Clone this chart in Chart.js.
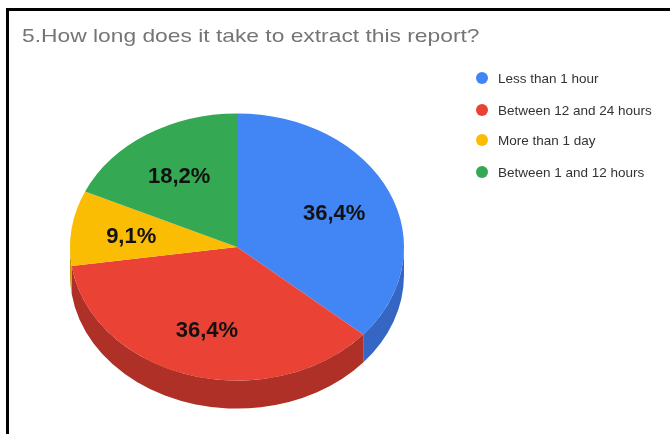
<!DOCTYPE html>
<html>
<head>
<meta charset="utf-8">
<script src="https://cdn.jsdelivr.net/npm/chart.js@4/dist/chart.umd.min.js"></script>
<style>
  html, body { margin: 0; padding: 0; background: #fff; overflow: hidden; }
  #wrap { position: relative; width: 670px; height: 434px; }
  #frame { position: absolute; left: 6px; top: 8px; right: 0; bottom: 0;
           border-top: 3px solid #000; border-left: 3px solid #000; }
  canvas { position: absolute; left: 0; top: 0; }
</style>
</head>
<body>
<div id="wrap">
  <div id="frame"></div>
  <canvas id="c" width="670" height="434"></canvas>
</div>
<script>
const chartTitle = '5.How long does it take to extract this report?';
const categories = ['Less than 1 hour', 'Between 12 and 24 hours', 'More than 1 day', 'Between 1 and 12 hours'];
const shares = [36.4, 36.4, 9.1, 18.2];
const topColors = ['#4285F4', '#EA4335', '#FBBC04', '#34A853'];
const sideColors = ['#3566c4', '#ae3027', '#c99303', '#2a8642'];

// vertical squash of the pie disc and thickness of its rim
const TILT = 0.80;
const DEPTH = 28;

function fmtShare(v) {
  return v.toFixed(1).replace('.', ',') + '%';
}

const pie3d = {
  id: 'pie3d',
  beforeDatasetsDraw(chart) {
    const ctx = chart.ctx;
    const arcs = chart.getDatasetMeta(0).data;
    if (!arcs.length) return;
    const { x: cx, y: cy, outerRadius: r } = arcs[0];
    // rim: the front half of the disc, pushed down by DEPTH
    arcs.forEach((arc, i) => {
      const a = Math.max(arc.startAngle, 0);
      const b = Math.min(arc.endAngle, Math.PI);
      if (a >= b) return;
      ctx.save();
      ctx.beginPath();
      ctx.ellipse(cx, cy, r, r * TILT, 0, a, b, false);
      ctx.ellipse(cx, cy + DEPTH, r, r * TILT, 0, b, a, true);
      ctx.closePath();
      ctx.fillStyle = sideColors[i];
      ctx.fill();
      ctx.restore();
    });
    // top face: squash the round pie into an ellipse
    ctx.save();
    ctx.translate(cx, cy);
    ctx.scale(1, TILT);
    ctx.translate(-cx, -cy);
  },
  afterDatasetsDraw(chart) {
    const ctx = chart.ctx;
    ctx.restore();
    const arcs = chart.getDatasetMeta(0).data;
    const values = chart.data.datasets[0].data;
    ctx.save();
    ctx.font = 'bold 22px "Liberation Sans", Arial, sans-serif';
    ctx.fillStyle = '#111';
    ctx.textAlign = 'center';
    ctx.textBaseline = 'middle';
    arcs.forEach((arc, i) => {
      const mid = (arc.startAngle + arc.endAngle) / 2;
      const f = 0.64;
      const x = arc.x + f * arc.outerRadius * Math.cos(mid);
      const y = arc.y + f * arc.outerRadius * TILT * Math.sin(mid) + 2;
      ctx.fillText(fmtShare(values[i]), x, y);
    });
    ctx.restore();
  },
  afterDraw(chart) {
    const ctx = chart.ctx;
    // heading
    ctx.save();
    ctx.font = '19px "Liberation Sans", Arial, sans-serif';
    ctx.fillStyle = '#757575';
    ctx.textBaseline = 'alphabetic';
    ctx.translate(22, 42);
    ctx.scale(1.2, 1);
    ctx.fillText(chartTitle, 0, 0);
    ctx.restore();
    // legend
    ctx.save();
    const rows = [78, 110, 140, 172];
    ctx.font = '13.5px "Liberation Sans", Arial, sans-serif';
    ctx.textBaseline = 'middle';
    chart.data.labels.forEach((lab, i) => {
      ctx.beginPath();
      ctx.arc(482, rows[i], 6, 0, Math.PI * 2);
      ctx.fillStyle = chart.data.datasets[0].backgroundColor[i];
      ctx.fill();
      ctx.fillStyle = '#333';
      ctx.fillText(lab, 498, rows[i] + 1);
    });
    ctx.restore();
  }
};

new Chart(document.getElementById('c'), {
  type: 'pie',
  data: {
    labels: categories,
    datasets: [{
      data: shares,
      backgroundColor: topColors,
      borderWidth: 0,
      hoverOffset: 0,
      offset: 0,
      clip: false
    }]
  },
  options: {
    responsive: false,
    animation: false,
    events: [],
    layout: { padding: { left: 70, right: 266, top: 80, bottom: 20 } },
    plugins: {
      legend: { display: false },
      title: { display: false },
      tooltip: { enabled: false }
    }
  },
  plugins: [pie3d]
});
</script>
</body>
</html>
